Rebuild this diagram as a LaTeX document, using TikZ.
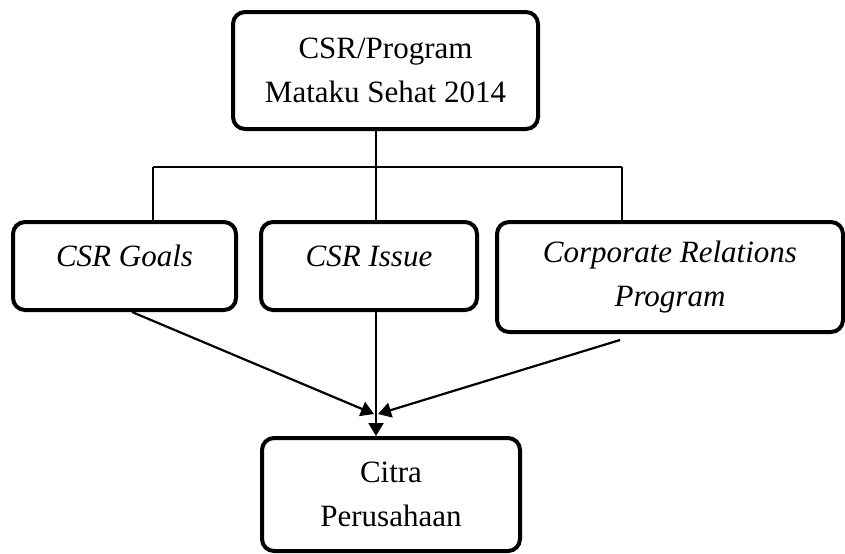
\documentclass[tikz,border=0pt]{standalone}
\usepackage{fontspec}
\setmainfont{Liberation Serif}
\usepackage{tikz}
\usetikzlibrary{arrows.meta,calc,positioning}
\tikzset{
  >={Triangle[length=6.5pt,width=7.5pt]},
  font=\fontsize{15.5}{22}\selectfont,
  box/.style={draw,line width=2pt,shape=rectangle,rounded corners=6pt,align=center,inner sep=0pt},
  onerow/.style={text height=11pt,text depth=11pt},
  link/.style={draw,line width=0.65pt},
  line/.style={draw,->,line width=1.1pt}
}
\begin{document}
\begin{tikzpicture}[x=0.5pt,y=-0.5pt]
  \useasboundingbox (0,0) rectangle (845,553);

  \node (program) [box,minimum width=152.5pt,minimum height=58.5pt] at (385.5,70.5) {CSR/Program\\Mataku Sehat 2014};
  \node (goals) [box,onerow,minimum width=111.5pt,minimum height=44pt] at (124.5,266) {\textit{CSR Goals}};
  \node (issue) [box,onerow,minimum width=108pt,minimum height=44pt] at (369,266) {\textit{CSR Issue}};
  \node (relations) [box,minimum width=173pt,minimum height=55pt] at (670,277) {\textit{Corporate Relations}\\\textit{Program}};
  \node (citra) [box,minimum width=129pt,minimum height=56.5pt] at (391,494.5) {Citra\\Perusahaan};

  \coordinate (hub) at (376,167);
  \coordinate (barleft) at (153,167);
  \coordinate (barright) at (622,167);
  \coordinate (relfoot) at (620,340);
  \coordinate (joinleft) at (374,414);
  \coordinate (joinright) at (378,414);

  \path [link] (program.south -| hub) -- (hub);
  \path [link] (barleft) -- (barright);
  \path [link] (barleft) -- (barleft |- goals.north);
  \path [link] (hub) -- (hub |- issue.north);
  \path [link] (barright) -- (barright |- relations.north);

  \path [line] ($(goals.south)+(7.5,0)$) -- (joinleft);
  \path [line] (hub |- issue.south) -- (hub |- citra.north);
  \path [line] (relfoot) -- (joinright);
\end{tikzpicture}
\end{document}
